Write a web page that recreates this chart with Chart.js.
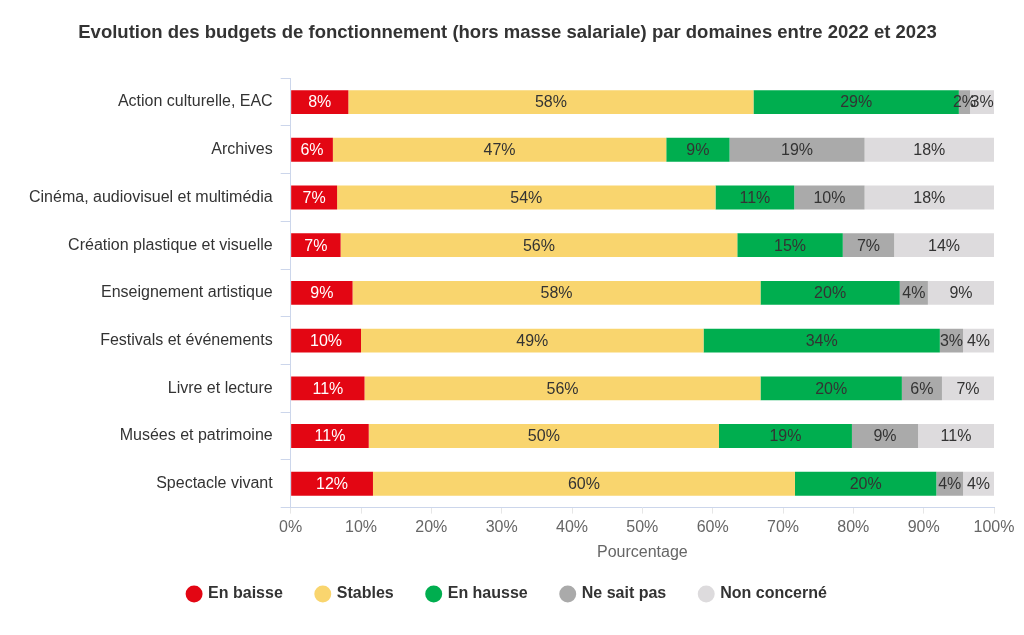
<!DOCTYPE html>
<html>
<head>
<meta charset="utf-8">
<script src="https://cdn.jsdelivr.net/npm/chart.js@4/dist/chart.umd.min.js"></script>
<style>
html,body{margin:0;padding:0;background:#fff;}
#wrap{width:1024px;height:635px;}
</style>
</head>
<body>
<div id="wrap"><canvas id="c" width="1024" height="635"></canvas></div>
<script>
const categories = [
  "Action culturelle, EAC",
  "Archives",
  "Cinéma, audiovisuel et multimédia",
  "Création plastique et visuelle",
  "Enseignement artistique",
  "Festivals et événements",
  "Livre et lecture",
  "Musées et patrimoine",
  "Spectacle vivant"
];
const enBaisse    = [8.2, 6.0, 6.6, 7.1, 8.8, 10.0, 10.5, 11.1, 11.7];
const stables     = [57.6, 47.4, 53.8, 56.4, 58.0, 48.7, 56.3, 49.8, 60.0];
const enHausse    = [29.2, 9.0, 11.2, 15.0, 19.8, 33.6, 20.1, 18.9, 20.1];
const neSaitPas   = [1.6, 19.2, 10.0, 7.3, 4.0, 3.3, 5.7, 9.4, 3.8];
const nonConcerne = [3.4, 18.4, 18.4, 14.2, 9.4, 4.4, 7.4, 10.8, 4.4];
const xTicks = [0,10,20,30,40,50,60,70,80,90,100];

const seriesNames = ["En baisse","Stables","En hausse","Ne sait pas","Non concerné"];
const seriesColors = ["#E30613","#F9D56E","#00AE4F","#AAAAAA","#DDDBDD"];
const labelColors = ["#ffffff","#333333","#333333","#333333","#333333"];
const seriesData = [enBaisse, stables, enHausse, neSaitPas, nonConcerne];
const FONT = '"Liberation Sans", Arial, sans-serif';

const barLabels = {
  id: 'barLabels',
  afterDatasetsDraw(chart) {
    const ctx = chart.ctx;
    ctx.save();
    ctx.font = '16px ' + FONT;
    ctx.textAlign = 'center';
    ctx.textBaseline = 'middle';
    chart.data.datasets.forEach((ds, di) => {
      const meta = chart.getDatasetMeta(di);
      meta.data.forEach((el, i) => {
        const v = ds.data[i];
        const p = el.getCenterPoint();
        ctx.fillStyle = labelColors[di];
        ctx.fillText(Math.round(v) + '%', p.x, p.y + 1);
      });
    });
    ctx.restore();
  }
};

new Chart(document.getElementById('c'), {
  type: 'bar',
  data: {
    labels: categories,
    datasets: seriesData.map((d, i) => ({
      label: seriesNames[i],
      data: d,
      backgroundColor: seriesColors[i],
      borderWidth: 0,
      barPercentage: 1,
      categoryPercentage: 0.5
    }))
  },
  options: {
    indexAxis: 'y',
    responsive: false,
    animation: false,
    layout: { padding: { left: 21, right: 30, top: 0, bottom: 23 } },
    scales: {
      x: {
        stacked: true,
        min: 0, max: 100,
        afterBuildTicks(axis) { axis.ticks = xTicks.map(v => ({ value: v })); },
        ticks: {
          callback: v => v + '%',
          color: '#666666',
          font: { size: 16, family: FONT },
          padding: 4,
          maxRotation: 0,
          autoSkip: false
        },
        grid: { drawOnChartArea: false, drawTicks: true, tickLength: 6, color: '#E6E6E6' },
        border: { display: true, color: '#CCD6EB' },
        title: {
          display: true,
          text: 'Pourcentage',
          color: '#666666',
          font: { size: 16, family: FONT },
          padding: { top: 2, bottom: -10 }
        }
      },
      y: {
        stacked: true,
        ticks: {
          color: '#333333',
          font: { size: 16, family: FONT },
          padding: 8
        },
        grid: { drawOnChartArea: false, drawTicks: true, tickLength: 10, offset: true, color: '#CCD6EB' },
        border: { display: true, color: '#CCD6EB' }
      }
    },
    plugins: {
      title: {
        display: true,
        text: 'Evolution des budgets de fonctionnement (hors masse salariale) par domaines entre 2022 et 2023',
        color: '#333333',
        font: { size: 18.5, weight: 'bold', family: FONT },
        padding: { top: 22, bottom: 34 }
      },
      legend: {
        position: 'bottom',
        labels: {
          usePointStyle: true,
          pointStyle: 'circle',
          boxWidth: 12, boxHeight: 12,
          padding: 34,
          color: '#333333',
          font: { size: 16, weight: 'bold', family: FONT }
        }
      },
      tooltip: { enabled: false }
    }
  },
  plugins: [barLabels]
});
</script>
</body>
</html>
